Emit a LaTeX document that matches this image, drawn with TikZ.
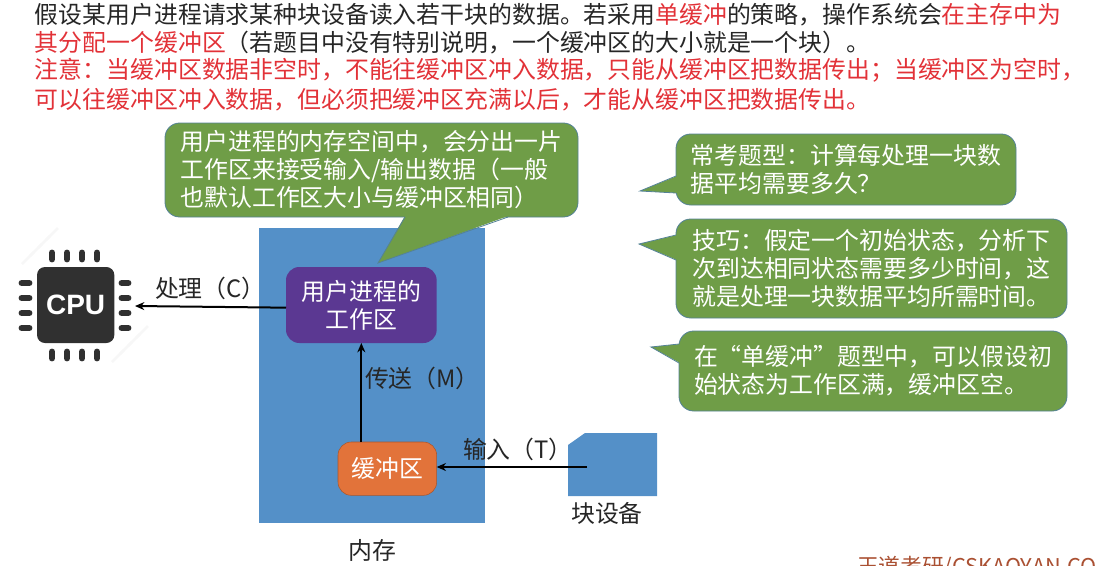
\documentclass[tikz,border=0pt]{standalone}
\usepackage{fontspec}
\usetikzlibrary{arrows.meta,positioning}
\setmainfont{Noto Sans CJK SC}
\newfontfamily\chipfont{Liberation Sans}
\definecolor{softgreen}{RGB}{111,157,71}
\definecolor{softedge}{RGB}{84,130,150}
\definecolor{softblue}{RGB}{84,144,200}
\definecolor{softpurple}{RGB}{91,56,146}
\definecolor{softorange}{RGB}{226,115,58}
\definecolor{softred}{RGB}{226,50,56}
\definecolor{inkgray}{RGB}{38,38,38}
\definecolor{chipgray}{RGB}{48,48,48}
\definecolor{markbrown}{RGB}{170,80,50}
\newcommand{\hl}[1]{\textcolor{softred}{#1}}

\begin{document}
\begin{tikzpicture}[x=0.75pt, y=-0.75pt, node distance=6pt,
    every node/.style={font=\fontsize{17.9}{21}\selectfont, inner sep=0pt, outer sep=0pt, text=inkgray},
    bubble/.style={draw=softedge, line width=0.6pt, fill=softgreen, rounded corners=11pt, anchor=north west, align=left, text=white},
    bubbletail/.style={fill=softgreen},
    bubbleedge/.style={draw=softedge, line width=0.6pt},
    flow/.style={draw=black, line width=1.5pt, -{Stealth[length=7pt,width=6pt]}},
    pin/.style={draw=chipgray, line width=5.2pt, line cap=round},
    streak/.style={draw=black!3, line width=2pt},
    roundbox/.style={rounded corners=10pt, align=center, text=white}]
    \clip (0,0) rectangle (1101,565);
    \useasboundingbox (0,0) rectangle (1101,565);

    % top text
    \node[anchor=north west, align=left] (intro) at (35,3) {
      假设某用户进程请求某种块设备读入若干块的数据。若采用\hl{单缓冲}的策略，操作系统会\hl{在主存中为}\\
      \hl{其分配一个缓冲区}（若题目中没有特别说明，一个缓冲区的大小就是一个块）。
    };
    \node[anchor=north west, align=left, text=softred, font=\fontsize{17.9}{22.4}\selectfont] (note) at (35,58) {
      注意：当缓冲区数据非空时，不能往缓冲区冲入数据，只能从缓冲区把数据传出；当缓冲区为空时，\\
      可以往缓冲区冲入数据，但必须把缓冲区充满以后，才能从缓冲区把数据传出。
    };

    % memory
    \node[fill=softblue, minimum width=169.5pt, minimum height=221.25pt, anchor=north west] (memory) at (259,228) {};
    \node[fill=softpurple, minimum width=113pt, minimum height=57pt, anchor=north west, roundbox] (workarea) at (286,267) {用户进程的\\工作区};
    \node[fill=softorange, draw=softorange!75!black, line width=0.4pt, minimum width=74pt, minimum height=40pt, anchor=north west, roundbox] (buffer) at (338,442) {缓冲区};
    \node[below=12.5pt of memory] (memlabel) {内存};

    % block device
    \fill[softblue] (568,445) -- (585,433) -- (657,433) -- (657,496) -- (568,496) -- cycle;
    \coordinate (devport) at (587,467);
    \node (devlabel) at (607,513) {块设备};

    % cpu
    \foreach \i in {0,1,2,3}{
      \draw[streak] (22+\i*8,264-\i*8) -- (34+\i*8,252-\i*8);
      \draw[streak] (112+\i*8,362-\i*8) -- (124+\i*8,350-\i*8);
    }
    \foreach \px in {52,67,82,97}{
      \draw[pin] (\px,253) -- (\px,259);
      \draw[pin] (\px,352) -- (\px,358);
    }
    \foreach \py in {283,298,313,328}{
      \draw[pin] (22,\py) -- (29,\py);
      \draw[pin] (122,\py) -- (128,\py);
    }
    \node[fill=chipgray, rounded corners=6pt, minimum width=58pt, minimum height=57pt, anchor=north west, text=white, font=\chipfont\bfseries\fontsize{21}{21}\selectfont] (cpu) at (37,267) {CPU};
    \coordinate (cpuport) at (135,306);

    % connectors
    \draw[flow] ([yshift=-2pt]workarea.west) -- (cpuport);
    \draw[flow] (buffer.north -| workarea.south) -- (workarea.south);
    \draw[flow] (devport) -- (devport -| buffer.east);
    \node[anchor=west] (proclabel) at (155,288) {处理（C）};
    \node[anchor=west] (sendlabel) at (365,378) {传送（M）};
    \node[anchor=west] (inlabel) at (463,449) {输入（T）};

    % callouts
    \node[bubble, minimum width=309.75pt, minimum height=70.5pt, inner xsep=9.5pt] (workbubble) at (165,123) {
      用户进程的内存空间中，会分出一片\\工作区来接受输入/输出数据（一般\\也默认工作区大小与缓冲区相同）
    };
    \coordinate (worktip) at (378,263);
    \fill[bubbletail] (worktip) -- (405,216) -- (508,216) -- cycle;
    \draw[bubbleedge] (405,217) -- (worktip) -- (508,217);

    \node[bubble, minimum width=255pt, minimum height=53.25pt, inner xsep=9.5pt] (examtype) at (676,134) {
      常考题型：计算每处理一块数\\据平均需要多久？
    };
    \coordinate (examtip) at (640,191);
    \fill[bubbletail] (examtip) -- (677,176) -- (677,193) -- cycle;
    \draw[bubbleedge] (676,176) -- (examtip) -- (676,193);

    \node[bubble, minimum width=293.25pt, minimum height=74.25pt, inner xsep=9.5pt] (skill) at (676,219) {
      技巧：假定一个初始状态，分析下\\次到达相同状态需要多少时间，这\\就是处理一块数据平均所需时间。
    };
    \coordinate (skilltip) at (639,244);
    \fill[bubbletail] (skilltip) -- (677,235) -- (677,260) -- cycle;
    \draw[bubbleedge] (676,235) -- (skilltip) -- (676,260);

    \node[bubble, minimum width=291pt, minimum height=60pt, inner xsep=9.5pt] (assume) at (679,331) {
      在“单缓冲”题型中，可以假设初\\始状态为工作区满，缓冲区空。
    };
    \coordinate (assumetip) at (651,347);
    \fill[bubbletail] (assumetip) -- (680,344) -- (680,363) -- cycle;
    \draw[bubbleedge] (679,344) -- (assumetip) -- (679,363);

    % watermark
    \node[anchor=west, text=markbrown, font=\fontsize{16.3}{18}\selectfont] (mark) at (857,567) {王道考研/CSKAOYAN.CO};
  \end{tikzpicture}
\end{document}
